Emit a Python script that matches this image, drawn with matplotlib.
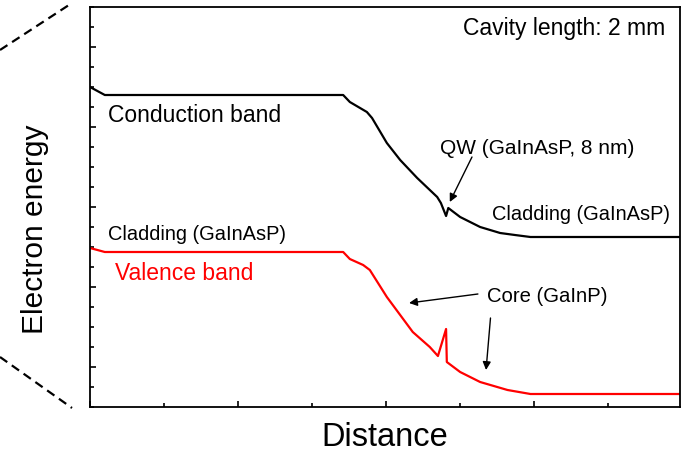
import matplotlib
matplotlib.use("Agg")
import matplotlib.pyplot as plt
from matplotlib.ticker import MultipleLocator

plt.rcParams['font.family'] = ['Liberation Sans', 'DejaVu Sans']

# band edges (arbitrary units)
cb_x = [0, 0.20, 3.42, 3.51, 3.74, 3.81, 4.01, 4.19, 4.42, 4.69, 4.74, 4.81, 4.84,
        5.00, 5.27, 5.54, 5.74, 5.95, 7.97]
cb_y = [16.0, 15.6, 15.6, 15.25, 14.75, 14.45, 13.2, 12.35, 11.45, 10.5, 10.2, 9.55, 9.95,
        9.5, 9.0, 8.7, 8.6, 8.5, 8.5]

vb_x = [0, 0.20, 3.42, 3.51, 3.69, 3.78, 4.01, 4.19, 4.36, 4.59, 4.70, 4.81, 4.82,
        5.00, 5.27, 5.64, 5.95, 7.97]
vb_y = [7.95, 7.75, 7.75, 7.4, 7.1, 6.85, 5.5, 4.6, 3.75, 3.0, 2.55, 3.9, 2.25,
        1.75, 1.25, 0.85, 0.65, 0.65]

fig = plt.figure(figsize=(6.83, 4.53), dpi=100)
ax = fig.add_axes([90/683, 46/453, 590/683, 400/453])

ax.plot(cb_x, cb_y, color="black", lw=1.6)
ax.plot(vb_x, vb_y, color="#ff0000", lw=1.6)

ax.set_xlim(0, 7.97)
ax.set_ylim(0, 20)
ax.xaxis.set_major_locator(MultipleLocator(2))
ax.xaxis.set_minor_locator(MultipleLocator(1))
ax.yaxis.set_major_locator(MultipleLocator(4, offset=2))
ax.yaxis.set_minor_locator(MultipleLocator(1))
ax.tick_params(which="both", direction="in", top=False, right=False,
               labelbottom=False, labelleft=False, width=1.2)
ax.tick_params(which="major", length=4.5)
ax.tick_params(which="minor", length=3)
for s in ax.spines.values():
    s.set_linewidth(1.3)

ax.text(7.77, 18.95, "Cavity length: 2 mm", ha="right", va="center", fontsize=16.5)
ax.text(0.24, 14.55, "Conduction band", ha="left", va="center", fontsize=16.5)
ax.text(4.73, 12.95, "QW (GaInAsP, 8 nm)", ha="left", va="center", fontsize=15)
ax.text(5.43, 9.65, "Cladding (GaInAsP)", ha="left", va="center", fontsize=14.4)
ax.text(0.24, 8.65, "Cladding (GaInAsP)", ha="left", va="center", fontsize=14.4)
ax.text(0.34, 6.7, "Valence band", ha="left", va="center", fontsize=16.5, color="#ff0000")
ax.text(5.36, 5.5, "Core (GaInP)", ha="left", va="center", fontsize=14.6)

arrow = dict(arrowstyle="-|>", color="black", lw=1.0, mutation_scale=12, shrinkA=0, shrinkB=0)
ax.annotate("", xy=(4.86, 10.25), xytext=(5.16, 12.5), arrowprops=arrow)
ax.annotate("", xy=(4.31, 5.2), xytext=(5.24, 5.65), arrowprops=arrow)
ax.annotate("", xy=(5.35, 1.85), xytext=(5.41, 4.45), arrowprops=arrow)

fig.text(385/683, 1 - 437/453, "Distance", ha="center", va="center", fontsize=23.5)
fig.text(35/683, 1 - 229/453, "Electron energy", ha="center", va="center",
         rotation=90, fontsize=21.5)

# zoom lines on the left
fig.add_artist(plt.Line2D([0, 72/683], [1 - 50/453, 1 - 3/453], transform=fig.transFigure,
                          color="black", lw=1.6, ls=(0, (4, 2.5))))
fig.add_artist(plt.Line2D([0, 72/683], [1 - 357/453, 1 - 408/453], transform=fig.transFigure,
                          color="black", lw=1.6, ls=(0, (4, 2.5))))

fig.savefig("out.png", dpi=100)
